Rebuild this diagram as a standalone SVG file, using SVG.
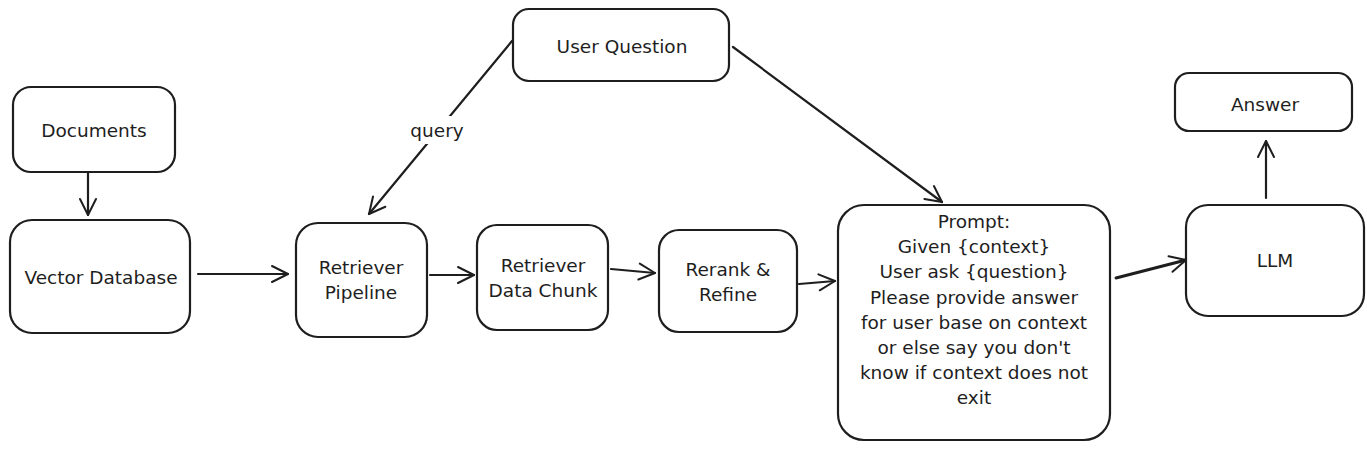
<svg xmlns="http://www.w3.org/2000/svg" width="1367" height="451" viewBox="0 0 1367 451">
<defs>
<marker id="arr" viewBox="-2 -10 22 20" markerWidth="22" markerHeight="20" refX="16" refY="0" orient="auto" markerUnits="userSpaceOnUse">
<path d="M0,-8 L16,0 L0,8" fill="none" stroke="#1e1e1e" stroke-width="2" stroke-linecap="round" stroke-linejoin="round"/>
</marker>
<style>
.box{fill:#fff;stroke:#1e1e1e;stroke-width:2.2}
.t{font-family:"DejaVu Sans","Liberation Sans",sans-serif;font-size:18.5px;fill:#1e1e1e;text-anchor:middle;dominant-baseline:central}
.c{fill:none;stroke:#1e1e1e;stroke-width:2.2;stroke-linecap:round;marker-end:url(#arr)}
</style>
</defs>
<rect width="1367" height="451" fill="#fff"/>
<g id="connectors">
<path class="c" d="M88,173 L88,215"/>
<path class="c" d="M198,274 L288,274"/>
<path class="c" d="M512,41 L369,214"/>
<path class="c" d="M733,47 L942,202"/>
<path class="c" d="M430,275 L474,275"/>
<path class="c" d="M611,269 L655,273"/>
<path class="c" d="M799,284 L835,281"/>
<path class="c" d="M1116,278 L1186,260" style="stroke-width:3"/>
<path class="c" d="M1266,198 L1266,141"/>
<rect x="408" y="116" width="58" height="28" fill="#fff"/>
<text class="t" x="437" y="130">query</text>
</g>
<g id="documents"><rect class="box" x="13" y="87" width="162" height="85" rx="18"/><text class="t" x="94" y="130">Documents</text></g>
<g id="vector-db"><rect class="box" x="10" y="220" width="180" height="113" rx="22"/><text class="t" x="101" y="277">Vector Database</text></g>
<g id="user-question"><rect class="box" x="513" y="9" width="216" height="72" rx="16"/><text class="t" x="622" y="46">User Question</text></g>
<g id="retriever-pipeline"><rect class="box" x="296" y="223" width="131" height="114" rx="22"/><text class="t" x="361" y="267">Retriever</text><text class="t" x="361" y="292">Pipeline</text></g>
<g id="retriever-chunk"><rect class="box" x="477" y="225" width="131" height="105" rx="20"/><text class="t" x="543" y="265">Retriever</text><text class="t" x="543" y="290">Data Chunk</text></g>
<g id="rerank"><rect class="box" x="659" y="230" width="138" height="102" rx="20"/><text class="t" x="728" y="269">Rerank &amp;</text><text class="t" x="728" y="294">Refine</text></g>
<g id="prompt"><rect class="box" x="838" y="205" width="272" height="235" rx="26"/>
<text class="t" x="974" y="221">Prompt:</text>
<text class="t" x="974" y="246">Given {context}</text>
<text class="t" x="974" y="271">User ask {question}</text>
<text class="t" x="974" y="297">Please provide answer</text>
<text class="t" x="974" y="322">for user base on context</text>
<text class="t" x="974" y="347">or else say you don't</text>
<text class="t" x="974" y="372">know if context does not</text>
<text class="t" x="974" y="397">exit</text>
</g>
<g id="llm"><rect class="box" x="1186" y="205" width="178" height="111" rx="22"/><text class="t" x="1275" y="260">LLM</text></g>
<g id="answer"><rect class="box" x="1175" y="73" width="177" height="58" rx="14"/><text class="t" x="1265" y="104">Answer</text></g>
</svg>
